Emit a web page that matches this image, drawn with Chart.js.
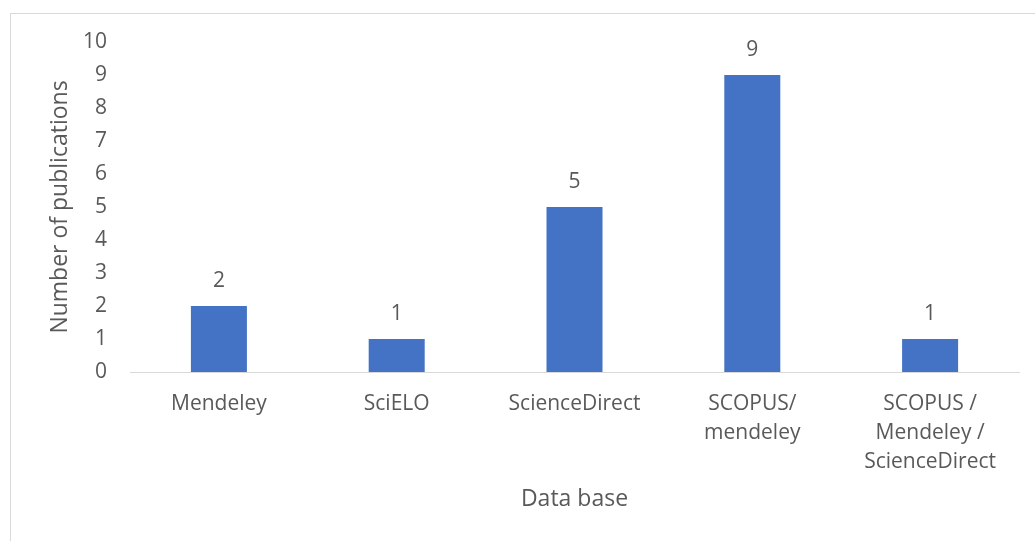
<!DOCTYPE html>
<html>
<head>
<meta charset="utf-8">
<script src="https://cdn.jsdelivr.net/npm/chart.js@4"></script>
<style>
  html, body { margin: 0; padding: 0; background: #fff; width: 1035px; height: 541px; overflow: hidden; }
  #frame { position: absolute; left: 10px; top: 13px; width: 1100px; height: 600px; border: 1px solid #d9d9d9; box-sizing: border-box; }
  #wrap { position: absolute; left: 0; top: 0; width: 1035px; height: 541px; }
</style>
</head>
<body>
<div id="frame"></div>
<div id="wrap"><canvas id="c" width="1035" height="541"></canvas></div>
<script>
const categories = [
  ["Mendeley"],
  ["SciELO"],
  ["ScienceDirect"],
  ["SCOPUS/", "mendeley"],
  ["SCOPUS /", "Mendeley /", "ScienceDirect"]
];
const publications = [2, 1, 5, 9, 1];
const yTicks = [0, 1, 2, 3, 4, 5, 6, 7, 8, 9, 10];
const yTitle = "Number of publications";
const xTitle = "Data base";

const FONT = "'Open Sans', sans-serif";
const FS = 21;
const TFS = 23;
const TXT = "#595959";

const labelPlugin = {
  id: 'barLabels',
  afterDatasetsDraw(chart) {
    const ctx = chart.ctx;
    const meta = chart.getDatasetMeta(0);
    ctx.save();
    ctx.fillStyle = TXT;
    ctx.font = FS + "px " + FONT;
    ctx.textAlign = "center";
    ctx.textBaseline = "middle";
    meta.data.forEach((bar, i) => {
      ctx.fillText(String(publications[i]), bar.x, bar.y - 25);
    });
    ctx.restore();
  }
};

new Chart(document.getElementById('c'), {
  type: 'bar',
  data: {
    labels: categories,
    datasets: [{
      data: publications,
      backgroundColor: '#4472C4',
      borderWidth: 0,
      barPercentage: 0.315,
      categoryPercentage: 1.0
    }]
  },
  options: {
    responsive: false,
    animation: false,
    devicePixelRatio: 1,
    layout: { padding: { left: 20, right: 16, top: 42, bottom: 20 } },
    plugins: { legend: { display: false }, tooltip: { enabled: false } },
    scales: {
      x: {
        grid: { display: false },
        border: { display: true, color: '#d9d9d9', width: 1 },
        ticks: { color: TXT, font: { family: FONT, size: FS, lineHeight: 1.38 }, padding: 10, maxRotation: 0, autoSkip: false },
        title: { display: true, text: xTitle, color: TXT, font: { family: FONT, size: TFS }, padding: { top: 10, bottom: 8 } },
        afterFit(scale) { scale.height = 149; }
      },
      y: {
        min: 0, max: 10,
        afterBuildTicks(scale) { scale.ticks = yTicks.map(v => ({ value: v })); },
        grid: { display: false },
        border: { display: false },
        ticks: { color: TXT, font: { family: FONT, size: FS }, padding: 15 },
        title: { display: true, text: yTitle, color: TXT, font: { family: FONT, size: TFS }, padding: { top: 27, bottom: 0 } },
        afterFit(scale) { scale.width = 110; }
      }
    }
  },
  plugins: [labelPlugin]
});
</script>
</body>
</html>
